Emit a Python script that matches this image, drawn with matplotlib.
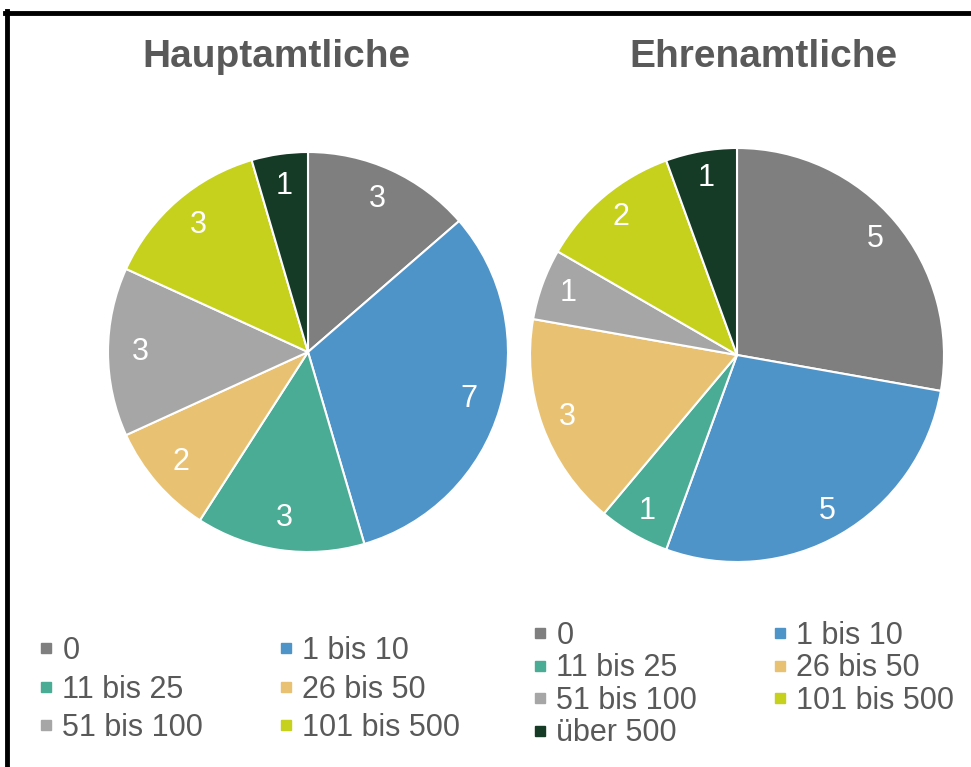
import matplotlib.pyplot as plt
from matplotlib.lines import Line2D

plt.rcParams['font.family'] = ['Liberation Sans', 'DejaVu Sans']

kategorien = ["0", "1 bis 10", "11 bis 25", "26 bis 50", "51 bis 100", "101 bis 500", "über 500"]
farben = ["#7f7f7f", "#4f94c8", "#4aac94", "#e8c272", "#a6a6a6", "#c5d11c", "#153a26"]
hauptamtliche = [3, 7, 3, 2, 3, 3, 1]
ehrenamtliche = [5, 5, 1, 3, 1, 2, 1]

textfarbe = "#595959"
W, H = 971, 767
fig = plt.figure(figsize=(W / 100, H / 100), dpi=100)


def torte(cx, cy, r, werte, pctdist):
    ax = fig.add_axes([(cx - r) / W, (H - cy - r) / H, 2 * r / W, 2 * r / H])
    summe = sum(werte)
    ax.pie(werte, colors=farben, startangle=90, counterclock=False,
           wedgeprops=dict(edgecolor="white", linewidth=1.5),
           autopct=lambda p: f"{round(p * summe / 100):d}", pctdistance=pctdist,
           textprops=dict(color="white", fontsize=22))
    ax.set_xlim(-1, 1)
    ax.set_ylim(-1, 1)
    ax.axis("off")
    return ax


torte(308, 352, 200, hauptamtliche, 0.84)
torte(737, 355, 207, ehrenamtliche, 0.87)

fig.text(276 / W, 1 - 57 / H, "Hauptamtliche", ha="center", va="center",
         fontsize=28, fontweight="bold", color=textfarbe)
fig.text(763 / W, 1 - 57 / H, "Ehrenamtliche", ha="center", va="center",
         fontsize=28, fontweight="bold", color=textfarbe)


def spalte(idx, x, y, spacing):
    handles = [Line2D([], [], marker="s", linestyle="none", markersize=6.5,
                      color=farben[i]) for i in idx]
    labels = [kategorien[i] for i in idx]
    fig.legend(handles, labels, loc="upper left", bbox_to_anchor=(x / W, 1 - y / H),
               frameon=False, fontsize=22, labelcolor=textfarbe,
               handlelength=0.5, handletextpad=0.3,
               labelspacing=spacing, borderpad=0, borderaxespad=0)


# Legenden zeilenweise (zwei Spalten)
spalte([0, 2, 4], 38, 636, 0.28)
spalte([1, 3, 5], 278, 636, 0.28)
spalte([0, 2, 4, 6], 532, 621, 0.08)
spalte([1, 3, 5], 772, 621, 0.08)

# Rahmen
fig.add_artist(Line2D([5 / W, 1], [1 - 12.5 / H, 1 - 12.5 / H], color="black", linewidth=3.5))
fig.add_artist(Line2D([7 / W, 7 / W], [0, 1 - 11 / H], color="black", linewidth=3.5))

fig.savefig("out.png", dpi=100)
